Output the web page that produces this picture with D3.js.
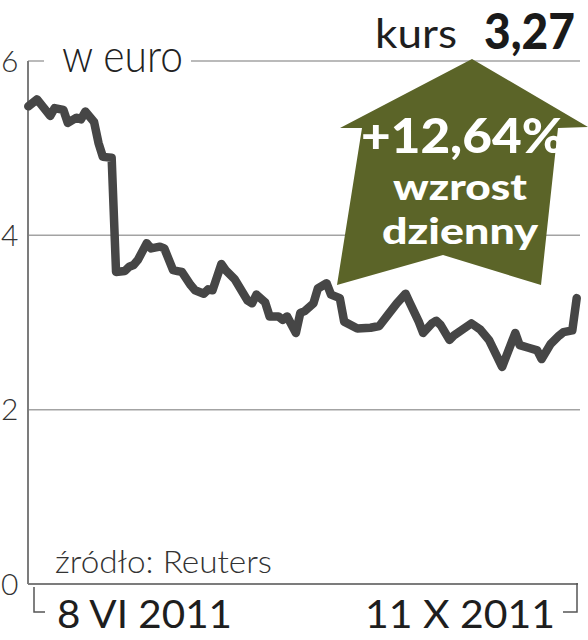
<!DOCTYPE html>
<html>
<head>
<meta charset="utf-8">
<script src="https://cdn.jsdelivr.net/npm/d3@7"></script>
<style>
  html, body { margin: 0; padding: 0; background: #fff; }
  svg { display: block; }
</style>
</head>
<body>
<div id="chart"></div>
<script>
// kurs w euro, 8 VI 2011 - 11 X 2011 (odczyt z wykresu)
var dates = [
  "2011-06-08","2011-06-10","2011-06-13","2011-06-14","2011-06-16","2011-06-17",
  "2011-06-19","2011-06-20","2011-06-21","2011-06-23","2011-06-24","2011-06-25",
  "2011-06-27","2011-06-28","2011-06-30","2011-07-01","2011-07-02","2011-07-03",
  "2011-07-05","2011-07-06","2011-07-08","2011-07-09","2011-07-11","2011-07-12",
  "2011-07-13","2011-07-15","2011-07-16","2011-07-18","2011-07-19","2011-07-20",
  "2011-07-22","2011-07-23","2011-07-25","2011-07-28","2011-07-29","2011-07-30",
  "2011-08-01","2011-08-02","2011-08-04","2011-08-05","2011-08-06","2011-08-08",
  "2011-08-09","2011-08-10","2011-08-12","2011-08-13","2011-08-15","2011-08-16",
  "2011-08-18","2011-08-19","2011-08-22","2011-08-25","2011-08-27","2011-08-29",
  "2011-08-31","2011-09-02","2011-09-03","2011-09-05","2011-09-06","2011-09-08",
  "2011-09-09","2011-09-10","2011-09-12","2011-09-13","2011-09-17","2011-09-19",
  "2011-09-21","2011-09-24","2011-09-27","2011-09-28","2011-09-30","2011-10-02",
  "2011-10-03","2011-10-05","2011-10-07","2011-10-08","2011-10-10","2011-10-11"
];
var values = [
  5.48, 5.56, 5.37, 5.46, 5.44, 5.29,
  5.35, 5.33, 5.42, 5.30, 5.06, 4.90,
  4.89, 3.58, 3.59, 3.64, 3.66, 3.72,
  3.91, 3.85, 3.87, 3.85, 3.60, 3.59,
  3.58, 3.43, 3.37, 3.33, 3.38, 3.37,
  3.67, 3.60, 3.50, 3.25, 3.22, 3.32,
  3.23, 3.07, 3.07, 3.03, 3.07, 2.88,
  3.11, 3.13, 3.22, 3.39, 3.45, 3.32,
  3.28, 3.01, 2.93, 2.94, 2.96, 3.09,
  3.22, 3.33, 3.22, 3.01, 2.88, 2.99,
  3.02, 2.97, 2.80, 2.85, 2.99, 2.92,
  2.80, 2.49, 2.88, 2.74, 2.71, 2.68,
  2.58, 2.75, 2.85, 2.89, 2.91, 3.28
];
var yTicks = [0, 2, 4, 6];
var xLabels = ["8 VI 2011", "11 X 2011"];
var unitLabel = "w euro";
var sourceLabel = "źródło: Reuters";
var lastLabel = "kurs";
var lastValue = "3,27";
var changeLabel = ["+12,64%", "wzrost", "dzienny"];

var width = 588,
    height = 640;

var lineColor = "#464646";
var gridColor = "#a3a3a3";
var axisColor = "#7c7c7c";
var arrowColor = "#5b6428";
var lightFont = "Lato, 'Open Sans', sans-serif";

var parse = d3.timeParse("%Y-%m-%d");
var data = dates.map(function (d, i) {
    return {date: parse(d), value: values[i]};
});

var x = d3.scaleTime()
        .domain(d3.extent(data, function (d) { return d.date; }))
        .range([28.3, 576.7]);
var y = d3.scaleLinear()
        .domain([0, 6])
        .range([584, 61]);

var svg = d3.select("#chart")
        .append("svg")
        .attr("width", width)
        .attr("height", height);

//Grid

svg.append("g")
        .selectAll("line")
        .data(yTicks.filter(function (t) { return t > 0; }))
        .enter()
        .append("line")
        .attr("x1", 28)
        .attr("x2", 580)
        .attr("y1", function (d) { return y(d); })
        .attr("y2", function (d) { return y(d); })
        .attr("stroke", gridColor)
        .attr("stroke-width", 1.5);

// gap in top gridline for unit label
svg.append("rect")
        .attr("x", 44)
        .attr("y", y(6) - 20)
        .attr("width", 147)
        .attr("height", 40)
        .attr("fill", "#fff");

svg.append("text")
        .text(unitLabel)
        .attr("x", 62)
        .attr("y", 72)
        .attr("font-family", lightFont)
        .attr("font-weight", 300)
        .attr("font-size", 46)
        .attr("textLength", 121)
        .attr("lengthAdjust", "spacingAndGlyphs")
        .attr("fill", "#222");

//Axes

svg.append("line")
        .attr("x1", 28).attr("x2", 28)
        .attr("y1", y(6)).attr("y2", y(0))
        .attr("stroke", axisColor)
        .attr("stroke-width", 2);
svg.append("line")
        .attr("x1", 28).attr("x2", 578)
        .attr("y1", y(0)).attr("y2", y(0))
        .attr("stroke", axisColor)
        .attr("stroke-width", 2);

svg.append("path")
        .attr("d", "M34," + (y(0) + 3) + " V612 H45")
        .attr("fill", "none")
        .attr("stroke", "#555")
        .attr("stroke-width", 1.5);
svg.append("path")
        .attr("d", "M577," + (y(0) - 1) + " V612 H563")
        .attr("fill", "none")
        .attr("stroke", "#555")
        .attr("stroke-width", 1.5);

svg.append("g")
        .selectAll("text")
        .data(yTicks)
        .enter()
        .append("text")
        .text(function (d) { return d; })
        .attr("x", 1)
        .attr("y", function (d) { return y(d); })
        .attr("dy", "0.36em")
        .attr("font-family", lightFont)
        .attr("font-weight", 300)
        .attr("font-size", 30)
        .attr("fill", "#333");

svg.append("text")
        .text(xLabels[0])
        .attr("x", 57)
        .attr("y", 628)
        .attr("font-family", lightFont)
        .attr("font-size", 39)
        .attr("textLength", 175)
        .attr("lengthAdjust", "spacingAndGlyphs")
        .attr("fill", "#1e1e1e");
svg.append("text")
        .text(xLabels[1])
        .attr("x", 365)
        .attr("y", 628)
        .attr("font-family", lightFont)
        .attr("font-size", 39)
        .attr("textLength", 190)
        .attr("lengthAdjust", "spacingAndGlyphs")
        .attr("fill", "#1e1e1e");

svg.append("text")
        .text(sourceLabel)
        .attr("x", 55)
        .attr("y", 573)
        .attr("font-family", lightFont)
        .attr("font-weight", 300)
        .attr("font-size", 31)
        .attr("textLength", 217)
        .attr("lengthAdjust", "spacingAndGlyphs")
        .attr("fill", "#333");

//Line

var line = d3.line()
        .x(function (d) { return x(d.date); })
        .y(function (d) { return y(d.value); });

svg.append("path")
        .datum(data)
        .attr("d", line)
        .attr("fill", "none")
        .attr("stroke", lineColor)
        .attr("stroke-width", 8.5)
        .attr("stroke-linejoin", "round")
        .attr("stroke-linecap", "round");

//Arrow

svg.append("path")
        .attr("d", "M472,59 L588,127 L558,128 L541,285 L443,255 L337,285 L362,128 L340,128 Z")
        .attr("fill", arrowColor);

svg.append("text")
        .text(changeLabel[0])
        .attr("x", 361)
        .attr("y", 153)
        .attr("font-family", lightFont)
        .attr("font-weight", 900)
        .attr("font-size", 48)
        .attr("textLength", 203)
        .attr("lengthAdjust", "spacingAndGlyphs")
        .attr("fill", "#fff");
svg.append("text")
        .text(changeLabel[1])
        .attr("x", 393)
        .attr("y", 200)
        .attr("font-family", lightFont)
        .attr("font-weight", 900)
        .attr("font-size", 36)
        .attr("textLength", 134)
        .attr("lengthAdjust", "spacingAndGlyphs")
        .attr("fill", "#fff");
svg.append("text")
        .text(changeLabel[2])
        .attr("x", 382)
        .attr("y", 244)
        .attr("font-family", lightFont)
        .attr("font-weight", 900)
        .attr("font-size", 36)
        .attr("textLength", 156)
        .attr("lengthAdjust", "spacingAndGlyphs")
        .attr("fill", "#fff");

//Last value

svg.append("text")
        .text(lastLabel)
        .attr("x", 375)
        .attr("y", 48)
        .attr("font-family", lightFont)
        .attr("font-size", 41)
        .attr("textLength", 82)
        .attr("lengthAdjust", "spacingAndGlyphs")
        .attr("fill", "#1e1e1e");
svg.append("text")
        .text(lastValue)
        .attr("x", 484)
        .attr("y", 49)
        .attr("font-family", lightFont)
        .attr("font-weight", 900)
        .attr("font-size", 50)
        .attr("textLength", 91)
        .attr("lengthAdjust", "spacingAndGlyphs")
        .attr("fill", "#1a1a1a");
</script>
</body>
</html>
